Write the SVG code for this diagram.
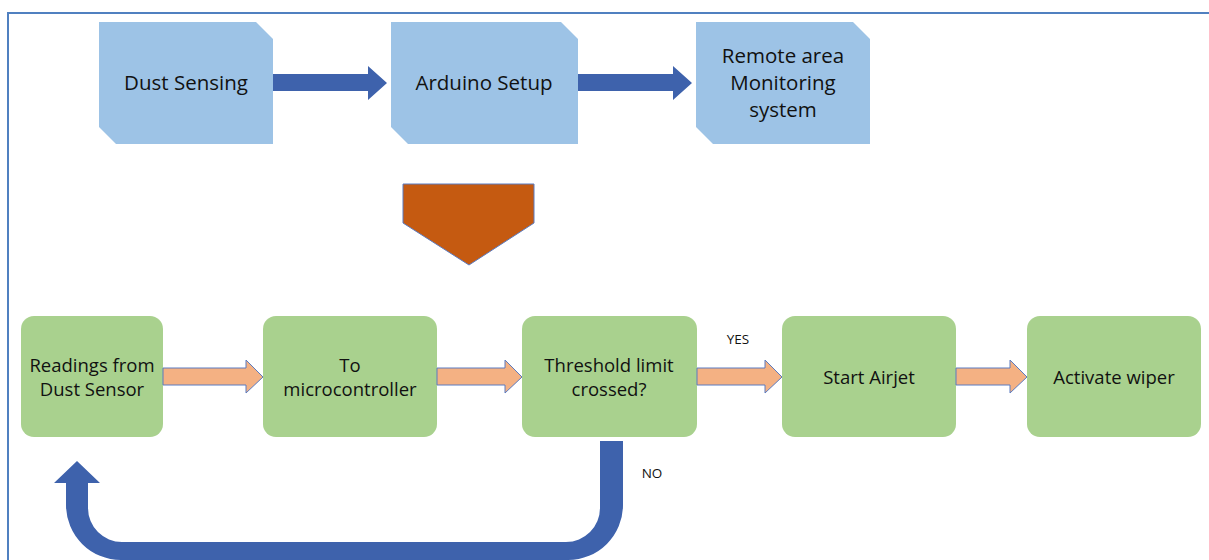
<svg xmlns="http://www.w3.org/2000/svg" width="1209" height="560" viewBox="0 0 1209 560">
  <style>
    .frame { fill: none; stroke: #5080C0; stroke-width: 2; }
    .blue-box { fill: #9DC3E6; }
    .green-box { fill: #A9D18E; }
    .blue-arrow { fill: #3E62AC; }
    .orange-arrow { fill: #F4B183; stroke: #5B7BC0; stroke-width: 1; }
    .lbl { font-family: "Open Sans", "Liberation Sans", sans-serif; fill: #111; text-anchor: middle; }
    .top { font-size: 20.5px; }
    .step { font-size: 18.5px; }
    .small { font-size: 13.5px; }
  </style>

  <rect width="1209" height="560" fill="#FFFFFF"/>
  <path class="frame" d="M 1209 13 L 8 13 L 8 560"/>

  <!-- top row: system overview -->
  <g id="dust-sensing">
    <polygon class="blue-box" points="99,22 256,22 273,39 273,144 116,144 99,127"/>
    <text class="lbl top" x="186" y="90">Dust Sensing</text>
  </g>
  <g id="arduino-setup">
    <polygon class="blue-box" points="391,22 561,22 578,39 578,144 408,144 391,127"/>
    <text class="lbl top" x="484" y="90">Arduino Setup</text>
  </g>
  <g id="remote-monitoring">
    <polygon class="blue-box" points="696,22 853,22 870,39 870,144 713,144 696,127"/>
    <text class="lbl top" x="783" y="63">Remote area</text>
    <text class="lbl top" x="783" y="90">Monitoring</text>
    <text class="lbl top" x="783" y="117">system</text>
  </g>

  <!-- expansion marker between the two rows -->
  <g id="expand-marker">
    <polygon points="403,184 534,184 534,223 469,265 403,223" fill="#C55A11" stroke="#5B7BC0" stroke-width="1"/>
  </g>

  <!-- bottom row: cleaning process -->
  <g id="readings">
    <rect class="green-box" x="21" y="316" width="142" height="121" rx="13"/>
    <text class="lbl step" x="92" y="372">Readings from</text>
    <text class="lbl step" x="92" y="396">Dust Sensor</text>
  </g>
  <g id="microcontroller">
    <rect class="green-box" x="263" y="316" width="174" height="121" rx="13"/>
    <text class="lbl step" x="350" y="372">To</text>
    <text class="lbl step" x="350" y="396">microcontroller</text>
  </g>
  <g id="threshold">
    <rect class="green-box" x="522" y="316" width="175" height="121" rx="13"/>
    <text class="lbl step" x="609" y="372">Threshold limit</text>
    <text class="lbl step" x="609" y="396">crossed?</text>
  </g>
  <g id="airjet">
    <rect class="green-box" x="782" y="316" width="174" height="121" rx="13"/>
    <text class="lbl step" x="869" y="384">Start Airjet</text>
  </g>
  <g id="wiper">
    <rect class="green-box" x="1027" y="316" width="174" height="121" rx="13"/>
    <text class="lbl step" x="1114" y="384">Activate wiper</text>
  </g>

  <g id="connectors">
    <!-- top row block arrows -->
    <polygon class="blue-arrow" points="273,74 368,74 368,66 387,83 368,100 368,91 273,91"/>
    <polygon class="blue-arrow" points="578,74 673,74 673,66 692,83 673,100 673,91 578,91"/>

    <!-- bottom row block arrows -->
    <polygon class="orange-arrow" points="163,368 246,368 246,360 263,377 246,393 246,385 163,385"/>
    <polygon class="orange-arrow" points="437,368 505,368 505,360 522,377 505,393 505,385 437,385"/>
    <polygon class="orange-arrow" points="697,368 765,368 765,360 782,377 765,393 765,385 697,385"/>
    <polygon class="orange-arrow" points="956,368 1010,368 1010,360 1027,377 1010,393 1010,385 956,385"/>

    <!-- NO branch: loop back to readings -->
    <path class="blue-arrow" d="M 600 441 L 623 441 L 623 505 A 55 55 0 0 1 568 560 L 121 560 A 55 55 0 0 1 66 505 L 66 483 L 54 483 L 77 461 L 100 483 L 88 483 L 88 508 A 34 34 0 0 0 122 542 L 566 542 A 34 34 0 0 0 600 508 Z"/>

    <text class="lbl small" x="738" y="344">YES</text>
    <text class="lbl small" x="652" y="478">NO</text>
  </g>
</svg>
